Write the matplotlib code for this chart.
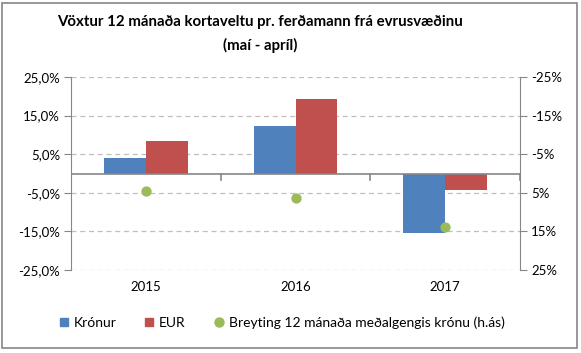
import matplotlib
matplotlib.use("Agg")
import matplotlib.pyplot as plt
import numpy as np
from matplotlib.patches import Patch, Rectangle
from matplotlib.lines import Line2D
from matplotlib.ticker import FuncFormatter

plt.rcParams['font.family'] = ['Lato', 'DejaVu Sans']

categories = ['2015', '2016', '2017']
kronur = [3.9, 12.2, -15.4]
eur = [8.5, 19.4, -4.4]
gengi = [4.5, 6.3, 13.9]  # right axis (inverted)
left_ticks = [-25, -15, -5, 5, 15, 25]
right_ticks = [-25, -15, -5, 5, 15, 25]

blue = '#4F81BD'
red = '#C0504D'
green = '#9BBB59'
axgray = '#868686'
gridgray = '#BFBFBF'
txt = '#000000'

W, H = 581, 353
fig = plt.figure(figsize=(W/100, H/100), dpi=100)
fig.patches.append(Rectangle((2.5/W, 5/H), 574.5/W, 345/H, transform=fig.transFigure,
                             fill=False, edgecolor=axgray, linewidth=1.2))

ax = fig.add_axes([71/W, (H-270)/H, (520-71)/W, (270-77)/H])
x = np.arange(len(categories))
bw = 0.28
ax.bar(x - bw/2, kronur, bw, color=blue, zorder=3)
ax.bar(x + bw/2, eur, bw, color=red, zorder=3)
ax.set_xlim(-0.5, 2.5)
ax.set_ylim(-25, 25)
ax.set_yticks(left_ticks)
ax.yaxis.set_major_formatter(FuncFormatter(lambda v, p: f"{v:.1f}%".replace('.', ',')))
for t in left_ticks:
    ax.axhline(t, color=gridgray, linestyle=(0, (4, 3)), linewidth=0.9, zorder=1)
ax.axhline(0, color=axgray, linewidth=1.2, zorder=4)
for s in ['top', 'right', 'bottom']:
    ax.spines[s].set_visible(False)
ax.spines['left'].set_color(axgray)
ax.tick_params(axis='y', colors=axgray, labelcolor=txt, length=5, labelsize=9.5, pad=3)
ax.set_xticks([])
# category tick marks at boundaries on the zero line
for b in [0.5, 1.5, 2.5]:
    ax.plot([b, b], [0, -1.6], color=axgray, linewidth=1.2, zorder=4, clip_on=False)
for i, c in enumerate(categories):
    ax.text(i, -29.5, c, ha='center', va='center', fontsize=9.5, color=txt)

ax2 = ax.twinx()
ax2.set_ylim(25, -25)
ax2.set_yticks(right_ticks)
ax2.yaxis.set_major_formatter(FuncFormatter(lambda v, p: f"{int(v)}%"))
ax2.scatter(x, gengi, s=55, color=green, zorder=5, linewidths=0)
for s in ['top', 'left', 'bottom']:
    ax2.spines[s].set_visible(False)
ax2.spines['right'].set_color(axgray)
ax2.tick_params(axis='y', colors=axgray, labelcolor=txt, length=5, labelsize=9.5, pad=3)

fig.text(260/W, (H-22)/H, 'Vöxtur 12 mánaða kortaveltu pr. ferðamann frá evrusvæðinu',
         ha='center', va='center', fontsize=10.8, fontweight='bold', color=txt)
fig.text(260/W, (H-45)/H, '(maí - apríl)', ha='center', va='center', fontsize=10.8,
         fontweight='bold', color=txt)

handles = [Line2D([], [], marker='s', linestyle='none', color=blue, markersize=6),
           Line2D([], [], marker='s', linestyle='none', color=red, markersize=6),
           Line2D([], [], marker='o', linestyle='none', color=green, markersize=6.5)]
labels = ['Krónur', 'EUR', 'Breyting 12 mánaða meðalgengis krónu (h.ás)']
fig.legend(handles, labels, loc='center left', bbox_to_anchor=(58/W, (H-323)/H), ncol=3,
           frameon=False, fontsize=10, handlelength=0.8, handletextpad=0.3,
           columnspacing=2.0, borderaxespad=0, borderpad=0)

fig.savefig('out.png', dpi=100)
